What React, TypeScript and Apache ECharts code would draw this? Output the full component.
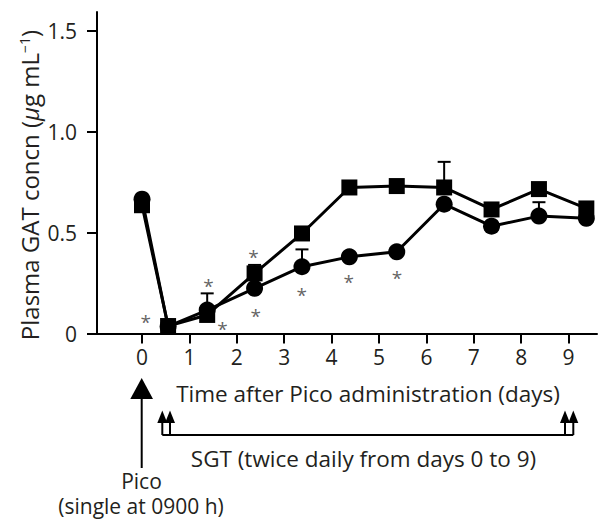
import React, { useEffect, useRef } from "react";
import * as echarts from "echarts";

const days = [0, 0.55, 1.375, 2.375, 3.375, 4.375, 5.375, 6.375, 7.375, 8.375, 9.375];
const squareValues = [0.636, 0.037, 0.092, 0.298, 0.496, 0.724, 0.731, 0.724, 0.615, 0.716, 0.62];
const circleValues = [0.666, 0.035, 0.116, 0.224, 0.331, 0.38, 0.405, 0.641, 0.532, 0.582, 0.571];

// one-sided (upper) error bars: [day, value, upper]
const squareErrors = [
  [2.375, 0.298, 0.34],
  [6.375, 0.724, 0.851],
];
const circleErrors = [
  [1.375, 0.116, 0.199],
  [3.375, 0.331, 0.417],
  [8.375, 0.582, 0.651],
];

// significance markers: [day, value]
const asterisks = [
  [0.08, 0.077],
  [1.4, 0.257],
  [1.7, 0.042],
  [2.35, 0.397],
  [2.4, 0.108],
  [3.37, 0.212],
  [4.36, 0.273],
  [5.38, 0.293],
];

const xTicks = [0, 1, 2, 3, 4, 5, 6, 7, 8, 9];
const yTicks = [0, 0.5, 1.0, 1.5];

const FONT = "Open Sans";
const TXT = "#231f20";

export default function App() {
  const ref = useRef<HTMLDivElement>(null);
  useEffect(() => {
    if (!ref.current) return;
    const chart = echarts.init(ref.current, undefined, { renderer: "svg" });
    const errData = [...squareErrors, ...circleErrors];
    const arrowSmall = (x: number) => [
      {
        type: "polygon",
        shape: { points: [[x, 410.5], [x - 5, 423], [x + 5, 423]] },
        style: { fill: "#000" },
      },
      {
        type: "line",
        shape: { x1: x, y1: 422, x2: x, y2: 435 },
        style: { stroke: "#000", lineWidth: 2 },
      },
    ];
    chart.setOption({
      animation: false,
      textStyle: { fontFamily: FONT },
      grid: { left: 97, right: 2, top: 12, bottom: 186.5, containLabel: false },
      xAxis: {
        type: "value",
        min: -0.95,
        max: 9.6,
        axisLine: { onZero: false, lineStyle: { color: "#000", width: 2 } },
        axisTick: { show: true, length: 10, lineStyle: { color: "#000", width: 2 }, customValues: xTicks },
        axisLabel: { fontSize: 21, color: TXT, margin: 13, fontFamily: FONT, customValues: xTicks },
        splitLine: { show: false },
      },
      yAxis: {
        type: "value",
        min: 0,
        max: 1.594,
        axisLine: { show: true, onZero: false, lineStyle: { color: "#000", width: 2 } },
        axisTick: { show: true, length: 10, lineStyle: { color: "#000", width: 2 }, customValues: yTicks },
        axisLabel: {
          fontSize: 21,
          color: TXT,
          margin: 20,
          fontFamily: FONT,
          customValues: yTicks,
          formatter: (v: number) => (v === 0 ? "0" : v.toFixed(1)),
        },
        splitLine: { show: false },
      },
      series: [
        {
          type: "custom",
          z: 1,
          data: errData,
          renderItem: (params: any, api: any) => {
            const x = api.value(0);
            const p0 = api.coord([x, api.value(1)]);
            const p1 = api.coord([x, api.value(2)]);
            return {
              type: "group",
              children: [
                { type: "line", shape: { x1: p0[0], y1: p0[1], x2: p1[0], y2: p1[1] }, style: { stroke: "#000", lineWidth: 2 } },
                { type: "line", shape: { x1: p1[0] - 6.5, y1: p1[1], x2: p1[0] + 6.5, y2: p1[1] }, style: { stroke: "#000", lineWidth: 2 } },
              ],
            };
          },
        },
        {
          type: "line",
          z: 2,
          data: days.map((d, i) => [d, squareValues[i]]),
          symbol: "rect",
          symbolSize: 16,
          itemStyle: { color: "#000" },
          lineStyle: { color: "#000", width: 3 },
        },
        {
          type: "line",
          z: 3,
          data: days.map((d, i) => [d, circleValues[i]]),
          symbol: "circle",
          symbolSize: 17,
          itemStyle: { color: "#000" },
          lineStyle: { color: "#000", width: 3 },
        },
        {
          type: "scatter",
          z: 4,
          data: asterisks,
          symbol: "circle",
          symbolSize: 1,
          itemStyle: { color: "rgba(0,0,0,0)" },
          label: {
            show: true,
            position: "inside",
            formatter: "*",
            fontSize: 19,
            color: "#3a3a3a",
            fontFamily: FONT,
            offset: [0, 4],
          },
        },
      ],
      graphic: [
        {
          type: "text",
          x: 29,
          y: 185,
          rotation: Math.PI / 2,
          style: {
            text: "Plasma GAT concn ({i|μ}g mL{s|−1})",
            fontSize: 24,
            fontFamily: FONT,
            fill: TXT,
            align: "center",
            verticalAlign: "middle",
            rich: {
              i: { fontSize: 24, fontStyle: "italic", fontFamily: FONT, fill: TXT },
              s: { fontSize: 14, fontFamily: FONT, fill: TXT, verticalAlign: "top", padding: [0, 0, 10, 0] },
            },
          },
        },
        {
          type: "text",
          x: 368,
          y: 393,
          style: { text: "Time after Pico administration (days)", fontSize: 22.5, fontFamily: FONT, fill: TXT, align: "center", verticalAlign: "middle" },
        },
        {
          type: "text",
          x: 363.5,
          y: 458,
          style: { text: "SGT (twice daily from days 0 to 9)", fontSize: 22.5, fontFamily: FONT, fill: TXT, align: "center", verticalAlign: "middle" },
        },
        {
          type: "text",
          x: 141.5,
          y: 481,
          style: { text: "Pico", fontSize: 21, lineHeight: 21, fontFamily: FONT, fill: TXT, align: "center", verticalAlign: "middle" },
        },
        {
          type: "text",
          x: 141,
          y: 505.5,
          style: { text: "(single at 0900 h)", fontSize: 21, lineHeight: 21, fontFamily: FONT, fill: TXT, align: "center", verticalAlign: "middle" },
        },
        {
          type: "polygon",
          shape: { points: [[141.7, 378], [130.3, 399], [153, 399]] },
          style: { fill: "#000" },
        },
        {
          type: "line",
          shape: { x1: 141.7, y1: 398, x2: 141.7, y2: 468 },
          style: { stroke: "#000", lineWidth: 2 },
        },
        {
          type: "line",
          shape: { x1: 162.3, y1: 435, x2: 573.3, y2: 435 },
          style: { stroke: "#000", lineWidth: 2 },
        },
        ...arrowSmall(162.3),
        ...arrowSmall(170),
        ...arrowSmall(565),
        ...arrowSmall(573.3),
      ],
    });
    return () => chart.dispose();
  }, []);
  return (
    <div style={{ position: "absolute", left: 0, top: 0 }}>
      <div ref={ref} style={{ width: 599, height: 520 }} />
    </div>
  );
}
